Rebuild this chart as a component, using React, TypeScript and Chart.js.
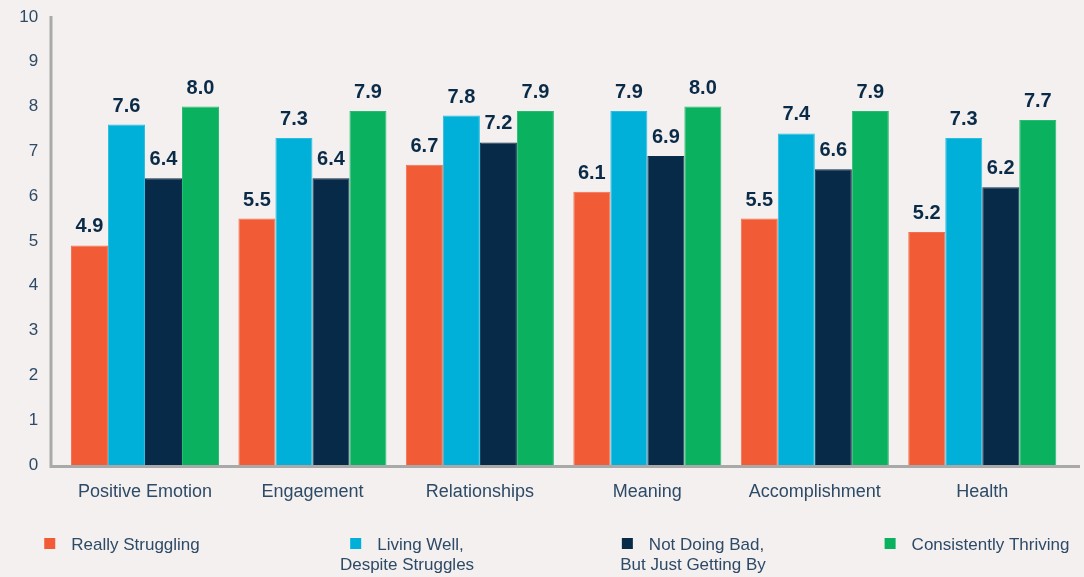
import React, { useEffect, useRef } from "react";
import { Chart, registerables } from "chart.js";

Chart.register(...registerables);

const categories = ["Positive Emotion", "Engagement", "Relationships", "Meaning", "Accomplishment", "Health"];
const seriesLabels = [
  ["Really Struggling"],
  ["Living Well,", "Despite Struggles"],
  ["Not Doing Bad,", "But Just Getting By"],
  ["Consistently Thriving"],
];
const reallyStruggling = [4.9, 5.5, 6.7, 6.1, 5.5, 5.2];
const livingWell = [7.6, 7.3, 7.8, 7.9, 7.4, 7.3];
const notDoingBad = [6.4, 6.4, 7.2, 6.9, 6.6, 6.2];
const consistentlyThriving = [8.0, 7.9, 7.9, 8.0, 7.9, 7.7];
const yMin = 0;
const yMax = 10;
const yStep = 1;

const seriesValues = [reallyStruggling, livingWell, notDoingBad, consistentlyThriving];
const seriesColors = ["#F15B35", "#00B0D9", "#062A47", "#0AB15E"];
const seriesBorders = ["#F36F4C", "#2ABDE0", "#0A2E4C", "#2ABB72"];

const FONT = "'Liberation Sans', Arial, Helvetica, sans-serif";
const TEXT = "#2D4A67";
const LABEL = "#0A2B48";
const BG = "#F4F0EF";
const AXIS = "#A9A9A9";

const customPlugin = {
  id: "custom",
  afterDatasetsDraw(chart: any) {
    const { ctx, chartArea } = chart;
    ctx.save();
    // axis lines
    ctx.strokeStyle = AXIS;
    ctx.lineWidth = 3;
    ctx.beginPath();
    ctx.moveTo(51, chartArea.top - 1);
    ctx.lineTo(51, chartArea.bottom + 3);
    ctx.moveTo(49.5, chartArea.bottom + 1.5);
    ctx.lineTo(1080, chartArea.bottom + 1.5);
    ctx.stroke();

    // value labels
    ctx.fillStyle = LABEL;
    ctx.font = `bold 20px ${FONT}`;
    ctx.textAlign = "center";
    ctx.textBaseline = "alphabetic";
    chart.data.datasets.forEach((ds: any, di: number) => {
      const meta = chart.getDatasetMeta(di);
      meta.data.forEach((el: any, i: number) => {
        const v = ds.data[i] as number;
        ctx.fillText(v.toFixed(1), el.x, el.y - 13);
      });
    });

    // legend
    ctx.font = `17px ${FONT}`;
    ctx.textAlign = "left";
    const centers = [122, 407, 693, 977];
    const sq = 11;
    const gap = 16;
    const line1 = 550;
    const lineH = 20;
    chart.data.datasets.forEach((ds: any, di: number) => {
      const lines: string[] = seriesLabels[di];
      const cx = centers[di];
      const w1 = sq + gap + ctx.measureText(lines[0]).width;
      const x0 = cx - w1 / 2;
      ctx.fillStyle = seriesColors[di];
      ctx.fillRect(x0, line1 - 12, sq, sq);
      ctx.fillStyle = TEXT;
      ctx.fillText(lines[0], x0 + sq + gap, line1);
      for (let k = 1; k < lines.length; k++) {
        const w = ctx.measureText(lines[k]).width;
        ctx.fillText(lines[k], cx - w / 2, line1 + k * lineH);
      }
    });
    ctx.restore();
  },
};

export default function App() {
  const ref = useRef<HTMLCanvasElement | null>(null);
  useEffect(() => {
    if (!ref.current) return;
    const chart = new Chart(ref.current, {
      type: "bar",
      data: {
        labels: categories,
        datasets: seriesValues.map((vals, i) => ({
          label: seriesLabels[i].join(" "),
          data: vals,
          backgroundColor: seriesColors[i],
          borderColor: seriesBorders[i],
          borderWidth: 1,
          categoryPercentage: 0.884,
          barPercentage: 1,
        })),
      },
      options: {
        animation: false,
        responsive: false,
        devicePixelRatio: 1,
        layout: { padding: { top: 17, right: 18, left: 0, bottom: 0 } },
        plugins: {
          legend: { display: false },
          tooltip: { enabled: false },
          title: { display: false },
        },
        scales: {
          x: {
            grid: { display: false, drawTicks: false, tickLength: 0 },
            border: { display: false },
            ticks: { color: TEXT, font: { family: FONT, size: 18 }, padding: 16 },
            afterFit: (s: any) => {
              s.height = 112;
            },
          },
          y: {
            min: yMin,
            max: yMax,
            grid: { display: false, drawTicks: false, tickLength: 0 },
            border: { display: false },
            ticks: { stepSize: yStep, color: TEXT, font: { family: FONT, size: 17 }, padding: 23 },
            afterFit: (s: any) => {
              s.width = 61.25;
              s.paddingTop = 0;
              s.paddingBottom = 0;
            },
          },
        },
      },
      plugins: [customPlugin],
    });
    return () => chart.destroy();
  }, []);
  return (
    <div style={{ position: "fixed", left: 0, top: 0, width: 1084, height: 577, background: BG }}>
      <canvas ref={ref} width={1084} height={577} style={{ display: "block", width: 1084, height: 577 }} />
    </div>
  );
}
